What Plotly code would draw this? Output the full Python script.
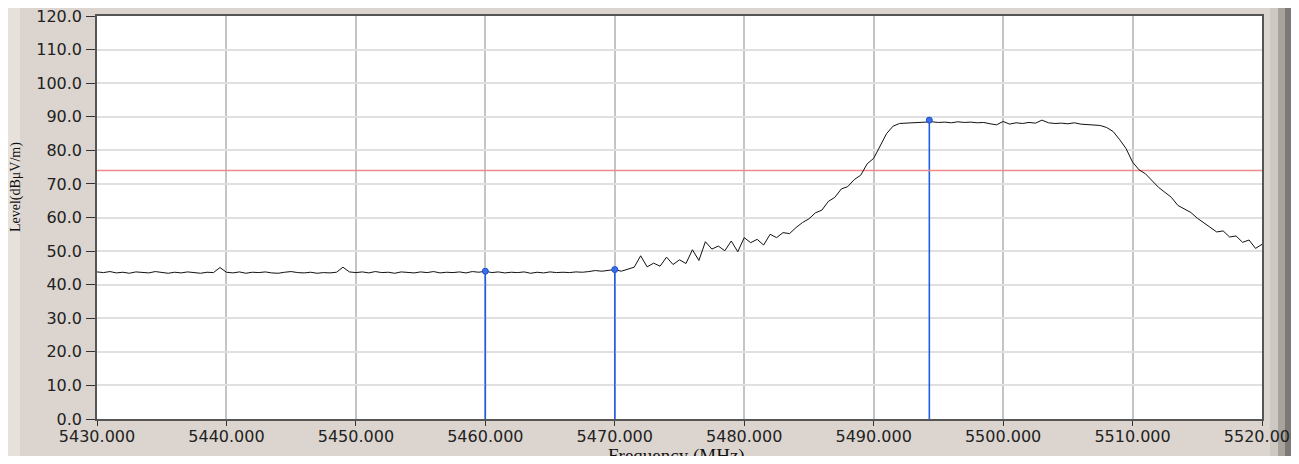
import plotly.graph_objects as go

# sweep 5430 - 5520 MHz, 0.5 MHz steps, level in dBuV/m
F_START, F_STEP = 5430.0, 0.5
level_5430 = [43.8, 43.6, 43.9, 43.5, 43.7, 43.4, 43.8, 43.6, 43.5, 43.9,
              43.6, 43.4, 43.7, 43.5, 43.8, 43.6, 43.4, 43.7, 43.6, 45.1]
level_5440 = [43.7, 43.5, 43.8, 43.4, 43.7, 43.6, 43.8, 43.5, 43.4, 43.7,
              43.9, 43.6, 43.5, 43.7, 43.4, 43.6, 43.5, 43.7, 45.2, 43.8]
level_5450 = [43.6, 43.8, 43.5, 43.9, 43.6, 43.7, 43.4, 43.8, 43.6, 43.5,
              43.8, 43.6, 43.9, 43.5, 43.7, 43.6, 43.8, 43.5, 43.9, 43.7]
level_5460 = [44.0, 43.6, 43.8, 43.5, 43.7, 43.6, 43.8, 43.4, 43.7, 43.5,
              43.8, 43.6, 43.7, 43.6, 43.8, 43.7, 43.9, 44.2, 44.0, 44.3]
level_5470 = [44.5, 44.0, 44.6, 45.2, 48.6, 45.3, 46.4, 45.5, 48.2, 46.0,
              47.4, 46.3, 50.4, 47.2, 52.8, 50.6, 51.5, 50.1, 53.0, 49.8]
level_5480 = [54.0, 52.5, 53.5, 51.8, 55.0, 54.0, 55.5, 55.2, 57.0, 58.5,
              59.6, 61.4, 62.2, 64.8, 66.0, 68.5, 69.2, 71.3, 72.6, 76.0]
level_5490 = [77.6, 81.1, 85.0, 87.2, 88.0, 88.1, 88.2, 88.4, 88.6, 88.5,
              88.3, 88.4, 88.2, 88.5, 88.3, 88.4, 88.2, 88.3, 87.9, 87.6]
level_5500 = [88.6, 87.8, 88.2, 88.0, 88.3, 88.1, 89.0, 88.2, 88.0, 88.1,
              87.9, 88.2, 87.8, 87.7, 87.6, 87.4, 86.8, 85.6, 83.2, 80.5]
level_5510 = [76.5, 74.2, 73.0, 71.0, 69.0, 67.5, 66.0, 63.6, 62.5, 61.5,
              59.8, 58.4, 57.0, 55.7, 56.0, 54.2, 54.5, 52.6, 53.3, 50.8, 52.0]

levels = (level_5430 + level_5440 + level_5450 + level_5460 + level_5470
          + level_5480 + level_5490 + level_5500 + level_5510)
freqs = [F_START + i * F_STEP for i in range(len(levels))]

marker_freq = [5460.0, 5470.0, 5494.3]
marker_level = [44.0, 44.5, 89.0]
limit_level = 74.0

x_ticks = [5430, 5440, 5450, 5460, 5470, 5480, 5490, 5500, 5510, 5520]
y_ticks = [0, 10, 20, 30, 40, 50, 60, 70, 80, 90, 100, 110, 120]

BG = "#dcd5cf"
OFF = 8                     # page body margin
W, H = 1299 - 2 * OFF, 464 - 2 * OFF
PLOT_W, PLOT_H = 1165, 403
L, T = 97 - OFF, 16 - OFF
R, B = W - L - PLOT_W, H - T - PLOT_H


def px(x):
    # screen pixel -> paper x
    return (x - OFF - L) / PLOT_W


def py(y):
    # screen pixel -> paper y
    return (T + PLOT_H - (y - OFF)) / PLOT_H


fig = go.Figure()

# marker stems
for f, lv in zip(marker_freq, marker_level):
    fig.add_trace(go.Scatter(x=[f, f], y=[0, lv], mode="lines",
                             line=dict(color="#1f5fe0", width=1.6),
                             hoverinfo="skip", showlegend=False))

fig.add_trace(go.Scatter(x=[x_ticks[0], x_ticks[-1]], y=[limit_level, limit_level],
                         mode="lines", line=dict(color="#f08a8a", width=1.4),
                         showlegend=False))

fig.add_trace(go.Scatter(x=freqs, y=levels, mode="lines",
                         line=dict(color="#111111", width=1), showlegend=False))

fig.add_trace(go.Scatter(x=marker_freq, y=marker_level, mode="markers",
                         marker=dict(size=6, color="#3a6fe8",
                                     line=dict(color="#1f4fd0", width=1)),
                         showlegend=False))

tick_font = dict(family="DejaVu Sans", size=16, color="#222222")

fig.update_xaxes(range=[5430, 5520], tickvals=x_ticks, tickformat=".3f",
                 showgrid=True, gridcolor="#c4c4c4", gridwidth=1.6,
                 showline=True, linecolor="#555555", linewidth=1.5, mirror=True,
                 ticks="outside", ticklen=5, tickcolor="#333333",
                 tickfont=tick_font, zeroline=False, automargin=False,
                 ticklabeloverflow="allow", ticklabelstandoff=-3)
fig.update_yaxes(range=[0, 120], tickvals=y_ticks, tickformat=".1f",
                 showgrid=True, gridcolor="#e0e0e0", gridwidth=1.6,
                 showline=True, linecolor="#555555", linewidth=1.5, mirror=True,
                 ticks="outside", ticklen=9, tickcolor="#333333",
                 tickfont=tick_font, zeroline=False, automargin=False,
                 ticklabeloverflow="allow", ticklabelstandoff=1)

# window chrome around the graph
shapes = [
    dict(type="rect", xref="paper", yref="paper", x0=px(OFF), x1=px(20), y0=py(464), y1=py(0),
         fillcolor="#e6e1db", line_width=0, layer="below"),
    dict(type="rect", xref="paper", yref="paper", x0=px(1270), x1=px(1278), y0=py(464), y1=py(OFF),
         fillcolor="#cdc8c2", line_width=0, layer="below"),
    dict(type="rect", xref="paper", yref="paper", x0=px(1278), x1=px(1285), y0=py(464), y1=py(OFF),
         fillcolor="#a8a39d", line_width=0, layer="below"),
    dict(type="rect", xref="paper", yref="paper", x0=px(1285), x1=px(1292), y0=py(464), y1=py(OFF),
         fillcolor="#7d7974", line_width=0, layer="below"),
]

fig.update_layout(
    width=W, height=H,
    margin=dict(l=L, r=R, t=T, b=B),
    paper_bgcolor=BG, plot_bgcolor="#ffffff",
    showlegend=False,
    shapes=shapes,
    annotations=[
        dict(text="Level(dB\u03bcV/m)", xref="paper", yref="paper", x=px(16), y=py(187),
             textangle=-90, showarrow=False, xanchor="center", yanchor="middle",
             font=dict(family="Liberation Serif", size=14, color="#111111")),
        dict(text="Frequency (MHz)", xref="paper", yref="paper", x=px(676), y=py(443),
             showarrow=False, xanchor="center", yanchor="top",
             font=dict(family="Liberation Serif", size=19, color="#111111")),
    ],
)

fig.write_html("out.html")
